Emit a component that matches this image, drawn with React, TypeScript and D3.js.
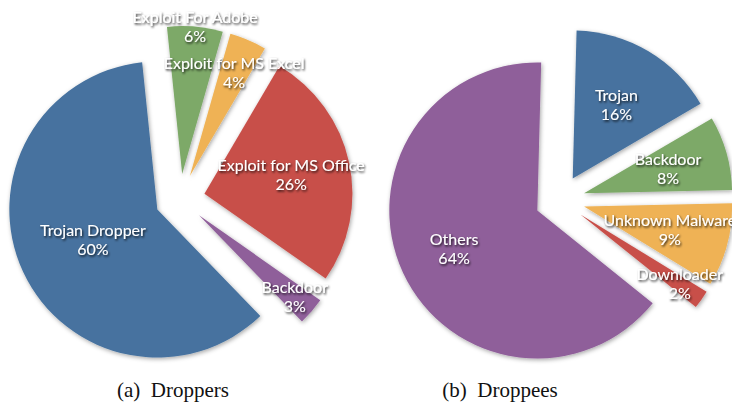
import React from "react";
import * as d3 from "d3";

const droppersLabels = ["Exploit For Adobe", "Exploit for MS Excel", "Exploit for MS Office", "Backdoor", "Trojan Dropper"];
const droppersValues = [6, 4, 26, 3, 60];
const droppersColors = ["#7DA968", "#EFB254", "#C8504A", "#8F5E9A", "#46729F"];

const droppeesLabels = ["Trojan", "Backdoor", "Unknown Malware", "Downloader", "Others"];
const droppeesValues = [16, 8, 9, 2, 64];
const droppeesColors = ["#46729F", "#7DA968", "#EFB254", "#C8504A", "#8F5E9A"];

// label placement as fraction of radius from each exploded slice's apex
const droppersLabelRadius = [1.0, 0.76, 0.6, 0.85, 0.48];
const droppeesLabelRadius = [0.58, 0.59, 0.6, 0.82, 0.62];

const captions = ["(a)  Droppers", "(b)  Droppees"];

const W = 732;
const H = 415;
const R = 148;
const EXPLODE = 25;

interface PieProps {
  cx: number;
  cy: number;
  labels: string[];
  values: number[];
  colors: string[];
  labelRadius: number[];
  startDeg: number;
}

function Pie({ cx, cy, labels, values, colors, labelRadius, startDeg }: PieProps) {
  const start = (startDeg * Math.PI) / 180;
  const pie = d3
    .pie<number>()
    .sort(null)
    .value((d) => d)
    .startAngle(start)
    .endAngle(start + 2 * Math.PI);
  const arcs = pie(values);
  const arc = d3.arc<d3.PieArcDatum<number>>().innerRadius(0).outerRadius(R);
  return (
    <g transform={`translate(${cx},${cy})`}>
      {arcs.map((a, i) => {
        const mid = (a.startAngle + a.endAngle) / 2;
        const ox = EXPLODE * Math.sin(mid);
        const oy = -EXPLODE * Math.cos(mid);
        return (
          <g key={"s" + i} transform={`translate(${ox},${oy})`}>
            <path d={arc(a) as string} fill={colors[i]} filter="url(#sliceShadow)" />
          </g>
        );
      })}
      {arcs.map((a, i) => {
        const mid = (a.startAngle + a.endAngle) / 2;
        const ox = EXPLODE * Math.sin(mid);
        const oy = -EXPLODE * Math.cos(mid);
        const lr = labelRadius[i] * R;
        const [lx, ly] = d3.arc<d3.PieArcDatum<number>>().innerRadius(lr).outerRadius(lr).centroid(a);
        return (
          <g key={"l" + i} transform={`translate(${ox + lx},${oy + ly})`} filter="url(#textShadow)">
            <text
              textAnchor="middle"
              y={-4}
              fill="#fff"
              fontFamily="Lato, 'Open Sans', sans-serif"
              fontSize={16}
            >
              {labels[i]}
            </text>
            <text
              textAnchor="middle"
              y={15}
              fill="#fff"
              fontFamily="Lato, 'Open Sans', sans-serif"
              fontSize={16}
            >
              {values[i] + "%"}
            </text>
          </g>
        );
      })}
    </g>
  );
}

export default function App() {
  return (
    <div style={{ position: "absolute", left: 0, top: 0, width: W, height: H, background: "#fff" }}>
      <svg width={W} height={H} viewBox={`0 0 ${W} ${H}`} style={{ display: "block" }}>
        <defs>
          <filter id="sliceShadow" x="-20%" y="-20%" width="140%" height="140%">
            <feDropShadow dx="1" dy="1.5" stdDeviation="2" floodColor="#000" floodOpacity="0.35" />
          </filter>
          <filter id="textShadow" x="-20%" y="-50%" width="140%" height="200%">
            <feDropShadow dx="1" dy="1.5" stdDeviation="1.2" floodColor="#000" floodOpacity="0.85" />
          </filter>
        </defs>
        <rect width={W} height={H} fill="#fff" />
        <Pie
          cx={180}
          cy={199}
          labels={droppersLabels}
          values={droppersValues}
          colors={droppersColors}
          labelRadius={droppersLabelRadius}
          startDeg={-5.9}
        />
        <Pie
          cx={560}
          cy={200}
          labels={droppeesLabels}
          values={droppeesValues}
          colors={droppeesColors}
          labelRadius={droppeesLabelRadius}
          startDeg={1.5}
        />
        <text x={173} y={397} textAnchor="middle" fontFamily="'Liberation Serif', 'Times New Roman', serif" fontSize={21} fill="#111" style={{ whiteSpace: "pre" }}>
          {captions[0]}
        </text>
        <text x={500} y={397} textAnchor="middle" fontFamily="'Liberation Serif', 'Times New Roman', serif" fontSize={21} fill="#111" style={{ whiteSpace: "pre" }}>
          {captions[1]}
        </text>
      </svg>
    </div>
  );
}
